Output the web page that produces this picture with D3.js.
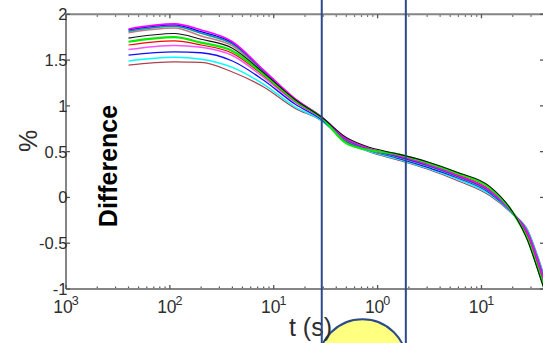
<!DOCTYPE html>
<html>
<head>
<meta charset="utf-8">
<script src="https://cdn.jsdelivr.net/npm/d3@7"></script>
<style>
  html, body { margin: 0; padding: 0; background: #ffffff; }
  svg { display: block; }
  text { font-family: "Liberation Sans", Arial, Helvetica, sans-serif; }
</style>
</head>
<body>
<svg id="chart" width="543" height="343"></svg>
<script>
// Sample times (s)
const times = [0.004, 0.011, 0.02, 0.04, 0.08, 0.16, 0.29, 0.5, 0.85, 1.5, 3, 6, 12, 20, 28, 35, 40];

// Difference (%) for each run
const runMagenta  = [1.84, 1.895, 1.829, 1.70, 1.39, 1.08, 0.88, 0.64, 0.53, 0.46, 0.36, 0.235, 0.075, -0.17, -0.40, -0.70, -0.91];
const runBlue     = [1.83, 1.885, 1.81, 1.69, 1.385, 1.075, 0.875, 0.635, 0.525, 0.455, 0.355, 0.23, 0.07, -0.17, -0.40, -0.70, -0.905];
const runTeal     = [1.815, 1.87, 1.792, 1.675, 1.38, 1.07, 0.87, 0.63, 0.52, 0.45, 0.35, 0.225, 0.065, -0.17, -0.395, -0.695, -0.90];
const runRose     = [1.80, 1.85, 1.763, 1.655, 1.37, 1.065, 0.865, 0.625, 0.515, 0.445, 0.345, 0.22, 0.06, -0.17, -0.39, -0.69, -0.895];
const runBlack    = [1.74, 1.79, 1.727, 1.63, 1.36, 1.07, 0.875, 0.655, 0.545, 0.48, 0.39, 0.27, 0.12, -0.16, -0.48, -0.80, -1.0];
const runGreen    = [1.70, 1.75, 1.69, 1.60, 1.345, 1.06, 0.87, 0.59, 0.515, 0.475, 0.38, 0.26, 0.105, -0.165, -0.465, -0.78, -0.98];
const runRed      = [1.665, 1.71, 1.665, 1.575, 1.33, 1.05, 0.865, 0.62, 0.525, 0.465, 0.365, 0.245, 0.085, -0.17, -0.43, -0.74, -0.95];
const runPink     = [1.615, 1.66, 1.64, 1.55, 1.31, 1.04, 0.86, 0.625, 0.52, 0.455, 0.355, 0.235, 0.075, -0.17, -0.41, -0.72, -0.93];
const runBlue2    = [1.555, 1.59, 1.58, 1.49, 1.28, 1.02, 0.85, 0.615, 0.51, 0.435, 0.33, 0.21, 0.05, -0.175, -0.385, -0.68, -0.88];
const runCyan     = [1.49, 1.53, 1.51, 1.42, 1.235, 0.99, 0.84, 0.61, 0.50, 0.425, 0.32, 0.195, 0.035, -0.18, -0.37, -0.665, -0.865];
const runDarkRed  = [1.445, 1.48, 1.475, 1.37, 1.206, 0.975, 0.835, 0.605, 0.495, 0.415, 0.31, 0.18, 0.02, -0.185, -0.36, -0.65, -0.85];

// Axis ticks
const xMajorTicks = [1e-3, 1e-2, 1e-1, 1, 10];
const xTickExponents = ["3", "2", "1", "0", "1"];
const yTicks = [2, 1.5, 1, 0.5, 0, -0.5, -1];
const yTickLabels = ["2", "1.5", "1", "0.5", "0", "-0.5", "-1"];

// Marked time instants (s)
const markerTimes = [0.29, 1.87];

const runs = [
  { values: runDarkRed, color: "#b04050", width: 1.2 },
  { values: runCyan,    color: "#00ffff", width: 1.5 },
  { values: runBlue2,   color: "#1010ff", width: 1.3 },
  { values: runPink,    color: "#ff50ff", width: 1.4 },
  { values: runRed,     color: "#ff0000", width: 1.2 },
  { values: runRose,    color: "#c87a80", width: 1.6 },
  { values: runTeal,    color: "#009c9c", width: 1.6 },
  { values: runBlue,    color: "#0000ff", width: 1.3 },
  { values: runMagenta, color: "#ff00ff", width: 1.6 },
  { values: runGreen,   color: "#00ee00", width: 2.2 },
  { values: runBlack,   color: "#111111", width: 1.1 }
];

const svg = d3.select("#chart");
const plotLeft = 66, plotRight = 544, plotTop = 14.3, plotBottom = 289;

const x = d3.scaleLog().domain([1e-3, 40]).range([plotLeft, plotRight]);
const y = d3.scaleLinear().domain([-1, 2]).range([plotBottom, plotTop]);

svg.append("defs").append("clipPath").attr("id", "plotClip")
  .append("rect").attr("x", plotLeft).attr("y", plotTop)
  .attr("width", plotRight - plotLeft).attr("height", plotBottom - plotTop);

// Curves
const line = d3.line()
  .x((d, i) => x(times[i]))
  .y(d => y(d))
  .curve(d3.curveMonotoneX);

const curveGroup = svg.append("g").attr("clip-path", "url(#plotClip)");
runs.forEach(r => {
  curveGroup.append("path")
    .datum(r.values)
    .attr("d", line)
    .attr("fill", "none")
    .attr("stroke", r.color)
    .attr("stroke-width", r.width)
    .attr("stroke-linejoin", "round");
});

// Axes box
const axisColor = "#858585";
const tickColor = "#555555";
svg.append("line").attr("x1", plotLeft).attr("x2", plotRight).attr("y1", plotBottom).attr("y2", plotBottom)
  .attr("stroke", axisColor).attr("stroke-width", 2);
svg.append("line").attr("x1", plotLeft).attr("x2", plotRight).attr("y1", plotTop).attr("y2", plotTop)
  .attr("stroke", axisColor).attr("stroke-width", 2);
svg.append("line").attr("x1", plotLeft).attr("x2", plotLeft).attr("y1", plotTop).attr("y2", plotBottom)
  .attr("stroke", axisColor).attr("stroke-width", 2);
svg.append("line").attr("x1", plotRight).attr("x2", plotRight).attr("y1", plotTop).attr("y2", plotBottom)
  .attr("stroke", axisColor).attr("stroke-width", 2);

// x ticks (major + minor), top and bottom, pointing inward
const xMinor = x.ticks().filter(t => !xMajorTicks.some(m => Math.abs(m - t) / m < 1e-9));
const tickG = svg.append("g");
xMinor.forEach(t => {
  const px = x(t);
  tickG.append("line").attr("x1", px).attr("x2", px).attr("y1", plotBottom - 1).attr("y2", plotBottom - 2.5)
    .attr("stroke", tickColor).attr("stroke-width", 1.2);
  tickG.append("line").attr("x1", px).attr("x2", px).attr("y1", plotTop + 1).attr("y2", plotTop + 2.5)
    .attr("stroke", tickColor).attr("stroke-width", 1.2);
});
xMajorTicks.forEach(t => {
  const px = x(t);
  tickG.append("line").attr("x1", px).attr("x2", px).attr("y1", plotBottom).attr("y2", plotBottom - 4)
    .attr("stroke", tickColor).attr("stroke-width", 1.3);
  tickG.append("line").attr("x1", px).attr("x2", px).attr("y1", plotTop).attr("y2", plotTop + 4)
    .attr("stroke", tickColor).attr("stroke-width", 1.3);
});
yTicks.forEach(v => {
  const py = y(v);
  tickG.append("line").attr("x1", plotLeft).attr("x2", plotLeft + 4).attr("y1", py).attr("y2", py)
    .attr("stroke", tickColor).attr("stroke-width", 1.3);
  tickG.append("line").attr("x1", plotRight).attr("x2", plotRight - 4).attr("y1", py).attr("y2", py)
    .attr("stroke", tickColor).attr("stroke-width", 1.3);
});

// Tick labels
const labelColor = "#2e2e2e";
yTicks.forEach((v, i) => {
  svg.append("text")
    .attr("x", plotLeft + 1.5).attr("y", y(v) + 6)
    .attr("text-anchor", "end")
    .attr("font-size", 16.5)
    .attr("fill", labelColor)
    .text(yTickLabels[i]);
});
xMajorTicks.forEach((t, i) => {
  const tx = svg.append("text")
    .attr("x", x(t)).attr("y", 313)
    .attr("text-anchor", "middle")
    .attr("font-size", 17.5)
    .attr("fill", labelColor);
  tx.append("tspan").text("10");
  tx.append("tspan").attr("dx", -1).attr("dy", -8).attr("font-size", 12.5).text(xTickExponents[i]);
});

// Highlight disc
svg.append("circle")
  .attr("cx", 362.5).attr("cy", 363.7).attr("r", 44.4)
  .attr("fill", "#ffff80").attr("stroke", "#2c4a8a").attr("stroke-width", 2);

// Axis titles
svg.append("text")
  .attr("x", 310.5).attr("y", 336)
  .attr("text-anchor", "middle")
  .attr("font-size", 25)
  .attr("fill", "#2e2e2e")
  .text("t (s)");

svg.append("text")
  .attr("transform", "translate(36.5,141) rotate(-90)")
  .attr("text-anchor", "middle")
  .attr("font-size", 25)
  .attr("fill", "#2e2e2e")
  .text("%");

svg.append("text")
  .attr("transform", "translate(117,166) rotate(-90)")
  .attr("text-anchor", "middle")
  .attr("font-size", 25)
  .attr("font-weight", "bold")
  .attr("fill", "#000000")
  .text("Difference");

// Marker lines
markerTimes.forEach(t => {
  svg.append("line")
    .attr("x1", x(t)).attr("x2", x(t))
    .attr("y1", 0).attr("y2", 343)
    .attr("stroke", "#2c4a8a").attr("stroke-width", 2);
});
</script>
</body>
</html>
